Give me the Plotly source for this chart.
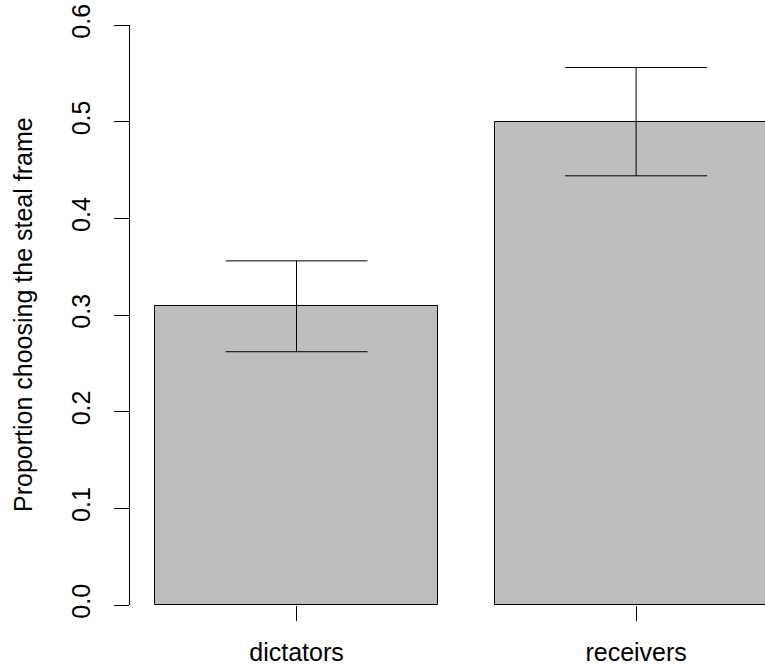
import plotly.graph_objects as go

# Data
categories = ["dictators", "receivers"]
positions = [0.7, 1.9]
proportions = [0.309, 0.500]
upper = [0.356, 0.556]
lower = [0.262, 0.444]
y_ticks = [0.0, 0.1, 0.2, 0.3, 0.4, 0.5, 0.6]
y_tick_labels = ["0.0", "0.1", "0.2", "0.3", "0.4", "0.5", "0.6"]
y_title = "Proportion choosing the steal frame"

err_plus = [u - p for u, p in zip(upper, proportions)]
err_minus = [p - l for p, l in zip(proportions, lower)]

FONT = "Liberation Sans, Arial, Helvetica, sans-serif"
FS = 25

fig = go.Figure()
fig.add_trace(go.Bar(
    x=positions,
    y=proportions,
    width=1.0,
    marker=dict(color="#bebebe", line=dict(color="black", width=1)),
    error_y=dict(type="data", symmetric=False, array=err_plus,
                 arrayminus=err_minus, color="black", thickness=1, width=71),
    showlegend=False,
    hoverinfo="skip",
))

fig.update_layout(
    width=765, height=664,
    margin=dict(l=130, r=0, t=25, b=59),
    paper_bgcolor="white", plot_bgcolor="white",
    font=dict(family=FONT, size=FS, color="black"),
    bargap=0,
    xaxis=dict(
        range=[0.2 - 25 / 283, 0.2 + 610 / 283],
        tickvals=positions, ticktext=categories,
        ticks="outside", ticklen=15, tickwidth=1, tickcolor="black",
        showline=False, showgrid=False, zeroline=False,
        ticklabelstandoff=10,
        automargin=False,
        tickfont=dict(family=FONT, size=FS, color="black"),
    ),
    yaxis=dict(
        range=[0, 0.6],
        tickvals=y_ticks, ticktext=y_tick_labels,
        tickangle=-90,
        ticks="outside", ticklen=15, tickwidth=1, tickcolor="black",
        showline=True, linecolor="black", linewidth=1,
        showgrid=False, zeroline=False,
        ticklabelstandoff=14,
        automargin=False,
        tickfont=dict(family=FONT, size=FS, color="black"),
    ),
    annotations=[dict(
        text=y_title, textangle=-90,
        xref="paper", yref="y",
        x=(23 - 130) / 635, y=0.3,
        xanchor="center", yanchor="middle",
        showarrow=False,
        font=dict(family=FONT, size=FS, color="black"),
    )],
)

fig.write_html(
    "out.html",
    config={"displayModeBar": False},
    post_script="document.body.style.margin='0';document.body.style.padding='0';"
                "document.body.style.overflow='hidden';"
                "document.documentElement.style.overflow='hidden';",
)
